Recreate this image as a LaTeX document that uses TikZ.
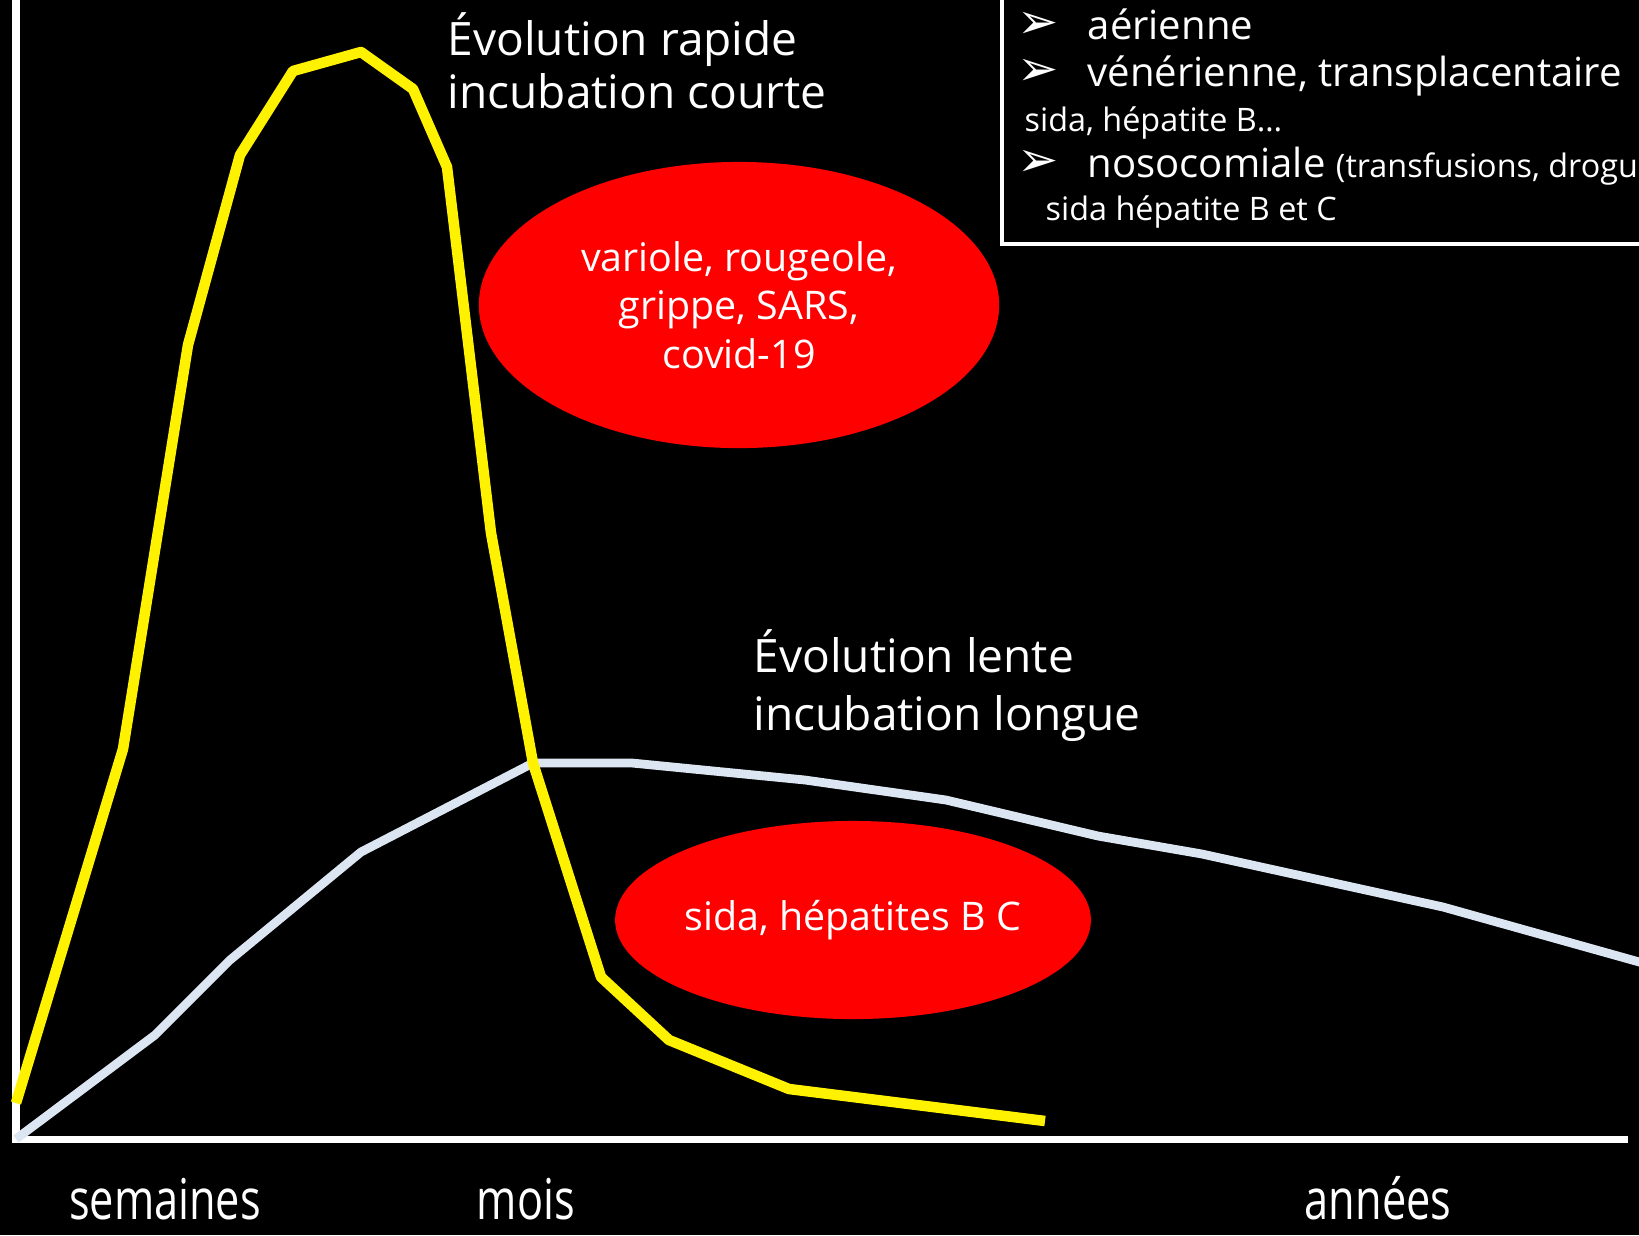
\documentclass[tikz,border=0pt]{standalone}
\usepackage{fontspec}
\usepackage{graphicx}
\setmainfont{Open Sans}
\newfontfamily\bulletfont{DejaVu Sans}
\usetikzlibrary{shapes.geometric}
\definecolor{paleblue}{HTML}{DCE6F2}

\begin{document}
\begin{tikzpicture}[
    x=0.01cm, y=-0.01cm,
    axisline/.style={line width=2pt, white},
    fastcurve/.style={line width=3pt, yellow, line join=round},
    slowcurve/.style={line width=2.5pt, paleblue, line join=round},
    disease/.style={ellipse, fill=red, text=white, align=center, inner sep=0pt, font=\fontsize{11.2}{13.8}\selectfont},
    curvelabel/.style={anchor=base west, text=white, inner sep=0pt, font=\fontsize{13.1}{16}\selectfont},
    boxtext/.style={anchor=base west, text=white, inner sep=0pt, font=\fontsize{11.4}{13}\selectfont},
    smalltext/.style={anchor=base west, text=white, inner sep=0pt, font=\fontsize{9.2}{11}\selectfont},
    bullet/.style={anchor=base, text=white, inner sep=0pt, font=\bulletfont\fontsize{14}{16}\selectfont},
    timelabel/.style={anchor=base, text=white, inner sep=0pt, font=\fontsize{16}{19}\selectfont}
]

% ===== Background =====
\fill[black] (0,0) rectangle (1639,1235);
\clip (0,0) rectangle (1639,1235);

% ===== Axes =====
\draw[axisline] (16,0) -- (16,1139) -- (1628,1139);

% ===== Curves =====
\draw[slowcurve] (16,1139) -- (155,1035) -- (230,960) -- (361,852) -- (533,763)
    -- (632,763) -- (805,780) -- (946,800) -- (1098,836) -- (1202,854)
    -- (1443,907) -- (1650,965);
\draw[fastcurve] (16,1103) -- (123,749) -- (188,345) -- (240,155) -- (293,71)
    -- (361,52) -- (413,89) -- (447,167) -- (491,533) -- (533,763)
    -- (601,977) -- (669,1040) -- (789,1089) -- (1045,1121);

% ===== Diseases =====
\node[disease, minimum width=5.2cm, minimum height=2.86cm] (fast_ex) at (739,305)
    {variole, rougeole,\\ grippe, SARS,\\ covid-19};
\node[disease, minimum width=4.62cm, minimum height=1.98cm] (slow_ex) at (853,920)
    {sida, hépatites B C};

% ===== Curve labels =====
\node[curvelabel] (fast_l1) at (447,55) {Évolution rapide};
\node[curvelabel] (fast_l2) at (447,108) {incubation courte};
\node[curvelabel] (slow_l1) at (753,672) {Évolution lente};
\node[curvelabel] (slow_l2) at (753,730) {incubation longue};

% ===== Transmission box =====
\draw[white, line width=1.4pt] (1650,-10) -- (1002,-10) -- (1002,244) -- (1650,244);
\node[bullet] (b1) at (1038,38) {➢};
\node[boxtext] (t1) at (1087,39) {aérienne};
\node[bullet] (b2) at (1038,85) {➢};
\node[boxtext] (t2) at (1087,86) {vénérienne, transplacentaire};
\node[smalltext] (t2b) at (1024,131) {sida, hépatite B…};
\node[bullet] (b3) at (1038,176) {➢};
\node[boxtext] (t3) at (1087,177) {nosocomiale \fontsize{9.2}{11}\selectfont(transfusions, drogues)};
\node[smalltext] (t3b) at (1045,220) {sida hépatite B et C};

% ===== Time scale =====
\node[timelabel] (weeks) at (165,1219) {\scalebox{0.77}[1]{semaines}};
\node[timelabel] (months) at (526,1219) {\scalebox{0.77}[1]{mois}};
\node[timelabel] (years) at (1378,1219) {\scalebox{0.77}[1]{années}};

\end{tikzpicture}
\end{document}
